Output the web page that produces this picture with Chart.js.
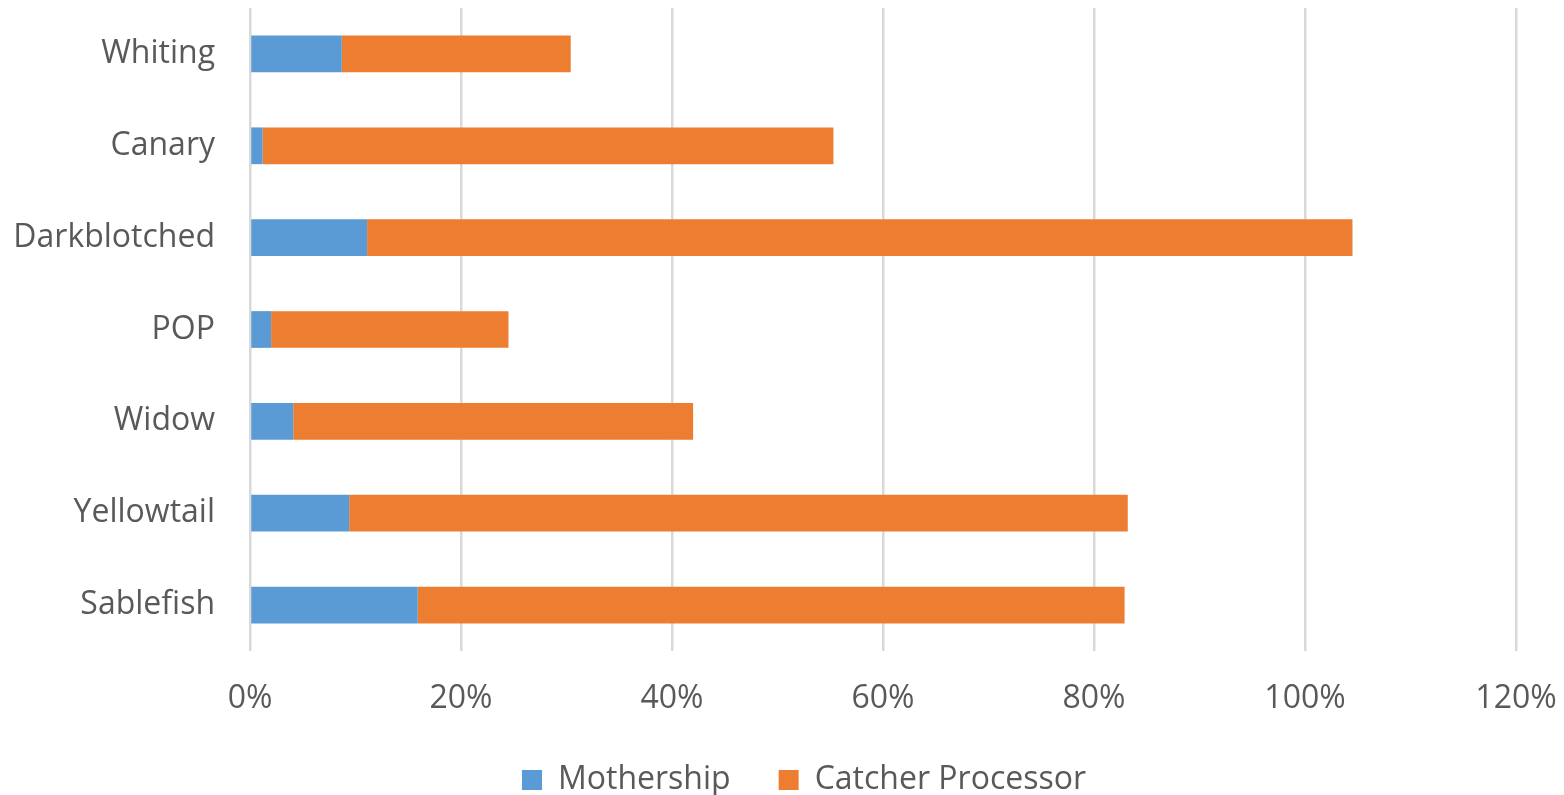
<!DOCTYPE html>
<html>
<head>
<meta charset="utf-8">
<script src="https://cdn.jsdelivr.net/npm/chart.js@4/dist/chart.umd.min.js"></script>
<style>
  html, body { margin: 0; padding: 0; background: #fff; overflow: hidden; }
  #wrap { position: relative; width: 1564px; height: 806px; }
</style>
</head>
<body>
<div id="wrap"><canvas id="chartCanvas"></canvas></div>
<script>
const species = ["Whiting", "Canary", "Darkblotched", "POP", "Widow", "Yellowtail", "Sablefish"];
const mothership = [8.7, 1.2, 11.1, 2.0, 4.1, 9.4, 15.9];
const catcherProcessor = [21.7, 54.1, 93.4, 22.5, 37.9, 73.8, 67.0];
const tickValues = [0, 20, 40, 60, 80, 100, 120];

const textColor = "#595959";
const fontFamily = "'Open Sans', sans-serif";

// nudge the legend right so it sits where the original one does
const legendShift = {
  id: "legendShift",
  afterLayout(chart) {
    chart.legend.left += 46;
    chart.legend.right += 46;
  }
};

const ctx = document.getElementById("chartCanvas").getContext("2d");
new Chart(ctx, {
  type: "bar",
  data: {
    labels: species,
    datasets: [
      { label: "Mothership", data: mothership, backgroundColor: "#5B9BD5" },
      { label: "Catcher Processor", data: catcherProcessor, backgroundColor: "#ED7D31" }
    ]
  },
  options: {
    indexAxis: "y",
    responsive: true,
    maintainAspectRatio: false,
    animation: false,
    layout: { padding: { top: 8, right: 48, left: 0, bottom: 0 } },
    datasets: { bar: { categoryPercentage: 0.4, barPercentage: 1, borderWidth: 0 } },
    plugins: {
      legend: {
        position: "bottom",
        labels: {
          boxWidth: 20,
          boxHeight: 20,
          padding: 48,
          color: textColor,
          font: { family: fontFamily, size: 32 }
        }
      },
      tooltip: { enabled: false }
    },
    scales: {
      x: {
        stacked: true,
        min: 0,
        max: 120,
        afterBuildTicks: s => { s.ticks = tickValues.map(v => ({ value: v })); },
        afterFit: s => { s.height = 65; s.paddingLeft = 0; s.paddingRight = 0; },
        ticks: {
          padding: 29,
          color: textColor,
          font: { family: fontFamily, size: 32 },
          callback: v => v + "%"
        },
        grid: { color: "#d9d9d9", lineWidth: 2.5, drawTicks: false },
        border: { display: false }
      },
      y: {
        stacked: true,
        afterFit: s => { s.width = 250; s.paddingTop = 0; s.paddingBottom = 0; },
        ticks: {
          padding: 35,
          color: textColor,
          font: { family: fontFamily, size: 32 }
        },
        grid: { display: false, drawTicks: false },
        border: { display: false }
      }
    }
  },
  plugins: [legendShift]
});
</script>
</body>
</html>
